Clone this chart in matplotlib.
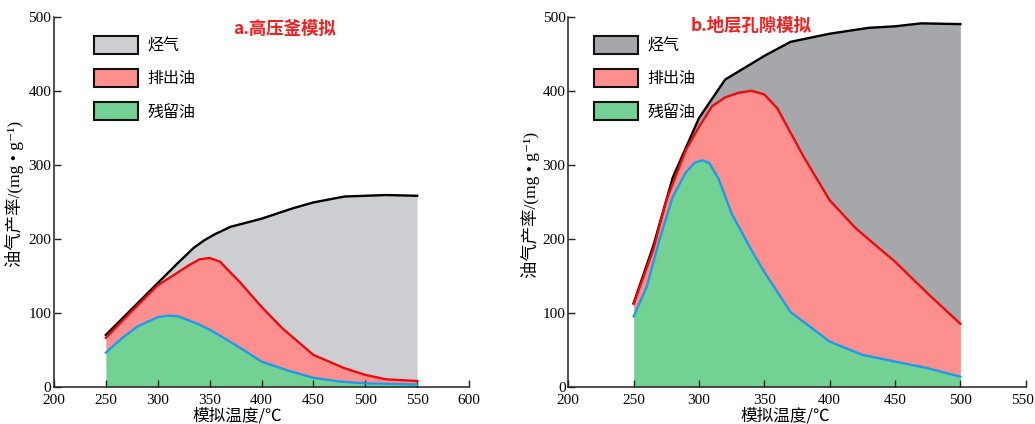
import matplotlib
matplotlib.use("Agg")
import matplotlib.pyplot as plt
from matplotlib.patches import Patch
import matplotlib.transforms as mtransforms
import numpy as np

plt.rcParams['font.family'] = ['Liberation Serif', 'Noto Sans CJK SC', 'DejaVu Sans']

# ---- data: a. 高压釜模拟 ----
a_temp_total = [250, 275, 300, 320, 335, 345, 355, 370, 400, 430, 450, 480, 500, 520, 550]
a_total      = [70, 105, 140, 168, 188, 198, 206, 216, 227, 241, 249, 257, 258, 259, 258]
a_temp_exp   = [250, 275, 300, 320, 330, 340, 350, 360, 380, 400, 420, 450, 480, 500, 520, 550]
a_exp        = [66, 102, 137, 155, 164, 172, 174, 169, 140, 108, 79, 43, 25, 16, 10, 7.7]
a_temp_res   = [250, 265, 280, 300, 310, 320, 340, 350, 360, 380, 400, 425, 450, 475, 500, 550]
a_res        = [46, 65, 81, 94, 96, 95, 84, 77, 69, 52, 34, 22, 12, 7, 4.5, 3]

# ---- data: b. 地层孔隙模拟 ----
b_temp_total = [250, 265, 280, 300, 320, 350, 370, 400, 430, 450, 470, 500]
b_total      = [113, 190, 283, 363, 415, 447, 466, 477, 485, 487, 491, 490]
b_temp_exp   = [250, 265, 275, 290, 300, 310, 320, 330, 340, 350, 360, 380, 400, 420, 450, 475, 500]
b_exp        = [112, 185, 252, 320, 351, 379, 391, 397, 400, 395, 376, 311, 252, 214, 169, 126, 85]
b_temp_res   = [250, 260, 270, 280, 290, 297, 303, 308, 315, 325, 340, 350, 370, 400, 425, 450, 475, 500]
b_res        = [95, 135, 200, 257, 290, 303, 306, 302, 281, 234, 185, 155, 101, 61, 43, 34, 25, 13.5]

legend_labels = ['烃气', '排出油', '残留油']

GREEN = '#73d193'
RED_FILL = '#fe8f8f'
GRAY_A = '#cdced2'
GRAY_B = '#a6a7ab'
RED_LINE = '#f00a0a'
BLUE_LINE = '#1a9cec'

fig = plt.figure(figsize=(10.35, 4.24), dpi=100)
ax1 = fig.add_axes([54/1035, 37.3/424, 415/1035, 370/424])
ax2 = fig.add_axes([568.3/1035, 37.3/424, 457.4/1035, 370/424])


def draw(ax, tt, tot, te, ex, tr, rs, gray, xlim, title, title_xy, leg_x, xlab_x, ylab_y):
    grid = np.union1d(np.union1d(tt, te), tr)
    tot_i = np.interp(grid, tt, tot)
    ex_i = np.interp(grid, te, ex)
    rs_i = np.interp(grid, tr, rs)
    ax.fill_between(grid, 0, rs_i, color=GREEN, lw=0, zorder=1)
    ax.fill_between(grid, rs_i, ex_i, color=RED_FILL, lw=0, zorder=1)
    ax.fill_between(grid, ex_i, tot_i, color=gray, lw=0, zorder=1)
    ax.plot(tt, tot, color='black', lw=1.7, zorder=3, solid_joinstyle='round')
    ax.plot(te, ex, color=RED_LINE, lw=1.7, zorder=3, solid_joinstyle='round')
    ax.plot(tr, rs, color=BLUE_LINE, lw=1.7, zorder=3, solid_joinstyle='round')
    ax.set_xlim(*xlim)
    ax.set_ylim(0, 500)
    ax.set_xticks(np.arange(xlim[0], xlim[1] + 1, 50))
    ax.set_yticks(np.arange(0, 501, 100))
    for s in ['top', 'right']:
        ax.spines[s].set_visible(False)
    for s in ['left', 'bottom']:
        ax.spines[s].set_linewidth(1.1)
        ax.spines[s].set_color('#222222')
        ax.spines[s].set_zorder(4)
    ax.tick_params(direction='in', length=5, width=1.0, colors='#222222',
                   labelsize=11, pad=2, labelcolor='black')
    ax.tick_params(axis='x', pad=5)
    ax.set_axisbelow(False)
    ax.text(title_xy[0], title_xy[1], title, color='#ff1a1a', fontsize=12.5,
            fontweight='bold', ha='center', va='center',
            family=['Noto Sans CJK SC', 'DejaVu Sans'], zorder=5)
    handles = [Patch(facecolor=gray, edgecolor='#111111', lw=1.5),
               Patch(facecolor=RED_FILL, edgecolor='#111111', lw=1.5),
               Patch(facecolor=GREEN, edgecolor='#111111', lw=1.5)]
    leg = ax.legend(handles, legend_labels, loc='upper left', bbox_to_anchor=(leg_x, 0.948),
                    frameon=False, borderpad=0, borderaxespad=0, handlelength=2.75,
                    handleheight=1.37, handletextpad=0.6, labelspacing=0.92,
                    prop={'family': ['Noto Sans CJK SC'], 'size': 11.5})
    leg.set_zorder(6)
    ax.set_xlabel('模拟温度/℃', fontsize=12, family=['Noto Sans CJK SC', 'Liberation Serif'])
    ax.xaxis.set_label_coords(xlab_x, -0.055)
    ax.set_ylabel('油气产率/(mg • g⁻¹)', fontsize=12.5,
                  family=['Liberation Serif', 'Noto Sans CJK SC', 'DejaVu Sans'])
    ax.yaxis.set_label_coords(ylab_y[0], ylab_y[1])

draw(ax1, a_temp_total, a_total, a_temp_exp, a_exp, a_temp_res, a_res, GRAY_A,
     (200, 600), 'a.高压釜模拟', (422, 483), 0.096, 0.441, (-0.072, 0.52))
draw(ax2, b_temp_total, b_total, b_temp_exp, b_exp, b_temp_res, b_res, GRAY_B,
     (200, 550), 'b.地层孔隙模拟', (340, 487), 0.056, 0.474, (-0.061, 0.49))

# nudge the last x tick label of the right panel so it stays inside the figure
last = ax2.get_xticklabels()[-1]
last.set_transform(last.get_transform() + mtransforms.ScaledTranslation(-3/100, 0, fig.dpi_scale_trans))

fig.savefig('out.png', dpi=100)
